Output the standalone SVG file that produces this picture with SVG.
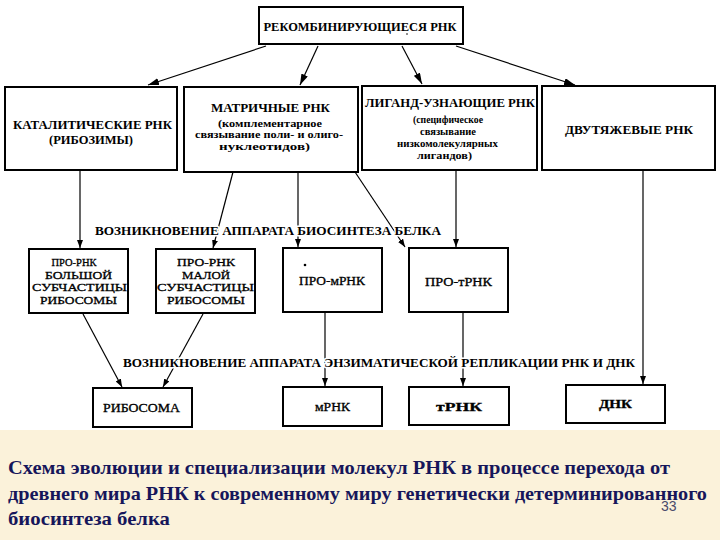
<svg xmlns="http://www.w3.org/2000/svg" width="720" height="540" viewBox="0 0 720 540">
<defs>
<marker id="ah" markerUnits="userSpaceOnUse" markerWidth="8" markerHeight="6" refX="8" refY="3" orient="auto"><path d="M0,0 L8,3 L0,6 z" fill="#000"/></marker>
<marker id="ahb" markerUnits="userSpaceOnUse" markerWidth="11" markerHeight="7" refX="11" refY="3.5" orient="auto"><path d="M0,0 L11,3.5 L0,7 z" fill="#000"/></marker>
<style>
.box{fill:#fff;stroke:#000;stroke-width:2}
.ln{fill:none;stroke:#000;stroke-width:1.2}
.h{font-family:'Liberation Serif',serif;font-weight:bold;font-size:12px;fill:#000;text-anchor:middle}
.s{font-family:'Liberation Serif',serif;font-weight:bold;font-size:10.5px;fill:#000;text-anchor:middle}
.r{font-family:'Liberation Serif',serif;font-size:12px;fill:#000;stroke:#000;stroke-width:0.3;text-anchor:middle}
.r4{font-family:'Liberation Serif',serif;font-size:11px;fill:#000;stroke:#000;stroke-width:0.3;text-anchor:middle}
.lab{font-family:'Liberation Serif',serif;font-weight:bold;font-size:12.5px;fill:#000;stroke:#fff;stroke-width:3;paint-order:stroke;stroke-linejoin:round}
.cap{font-family:'Liberation Serif',serif;font-weight:bold;font-size:19px;fill:#16165a}
</style>
</defs>
<rect x="0" y="0" width="720" height="540" fill="#fff"/>
<rect x="0" y="430" width="720" height="110" fill="#fbf2da"/>

<g id="connectors">
<line class="ln" x1="266" y1="46" x2="148" y2="85" marker-end="url(#ahb)"/>
<line class="ln" x1="318" y1="46" x2="300" y2="85" marker-end="url(#ahb)"/>
<line class="ln" x1="402" y1="46" x2="422" y2="84" marker-end="url(#ahb)"/>
<line class="ln" x1="456" y1="46" x2="575" y2="85" marker-end="url(#ahb)"/>
<line class="ln" x1="80" y1="171" x2="80" y2="248" marker-end="url(#ah)"/>
<line class="ln" x1="233" y1="172" x2="213" y2="248" marker-end="url(#ah)"/>
<line class="ln" x1="298" y1="173" x2="298" y2="247" marker-end="url(#ah)"/>
<line class="ln" x1="355" y1="172" x2="405" y2="247" marker-end="url(#ah)"/>
<line class="ln" x1="456" y1="171" x2="456" y2="247" marker-end="url(#ah)"/>
<line class="ln" x1="643" y1="171" x2="643" y2="384" marker-end="url(#ah)"/>
<line class="ln" x1="83" y1="314" x2="122" y2="387" marker-end="url(#ah)"/>
<line class="ln" x1="203" y1="314" x2="163" y2="387" marker-end="url(#ah)"/>
<line class="ln" x1="325" y1="313" x2="325" y2="386" marker-end="url(#ah)"/>
<line class="ln" x1="463" y1="313" x2="463" y2="386" marker-end="url(#ah)"/>
<text class="lab" x="95" y="234.5" textLength="346" lengthAdjust="spacingAndGlyphs">ВОЗНИКНОВЕНИЕ АППАРАТА БИОСИНТЕЗА БЕЛКА</text>
<text class="lab" x="123" y="367" textLength="512" lengthAdjust="spacingAndGlyphs">ВОЗНИКНОВЕНИЕ АППАРАТА ЭНЗИМАТИЧЕСКОЙ РЕПЛИКАЦИИ РНК И ДНК</text>
</g>

<g id="recomb">
<rect class="box" x="259" y="7" width="204" height="37"/>
<text class="h" x="360" y="31" font-size="12.5" textLength="193" lengthAdjust="spacingAndGlyphs">РЕКОМБИНИРУЮЩИЕСЯ РНК</text>
<circle cx="407" cy="34" r="0.8" fill="#000"/>
</g>

<g id="catalytic">
<rect class="box" x="5" y="87" width="172" height="83"/>
<text class="h" x="92.5" y="129" textLength="159" lengthAdjust="spacingAndGlyphs">КАТАЛИТИЧЕСКИЕ РНК</text>
<text class="h" x="91" y="144" textLength="84" lengthAdjust="spacingAndGlyphs">(РИБОЗИМЫ)</text>
</g>

<g id="matrix">
<rect class="box" x="184" y="87" width="174" height="85"/>
<text class="h" x="270.5" y="112" textLength="119" lengthAdjust="spacingAndGlyphs">МАТРИЧНЫЕ РНК</text>
<text class="s" x="270" y="126.5" textLength="104" lengthAdjust="spacingAndGlyphs">(комплементарное</text>
<text class="s" x="269" y="138" textLength="148" lengthAdjust="spacingAndGlyphs">связывание поли- и олиго-</text>
<text class="s" x="264.5" y="150" textLength="91" lengthAdjust="spacingAndGlyphs">нуклеотидов)</text>
</g>

<g id="ligand">
<rect class="box" x="362" y="86" width="175" height="84"/>
<text class="h" x="450" y="107" textLength="170" lengthAdjust="spacingAndGlyphs">ЛИГАНД-УЗНАЮЩИЕ РНК</text>
<text class="s" x="448" y="122.5" textLength="70" lengthAdjust="spacingAndGlyphs">(специфическое</text>
<text class="s" x="448" y="135" textLength="56" lengthAdjust="spacingAndGlyphs">связывание</text>
<text class="s" x="447.5" y="147" textLength="101" lengthAdjust="spacingAndGlyphs">низкомолекулярных</text>
<text class="s" x="444.5" y="159" textLength="55" lengthAdjust="spacingAndGlyphs">лигандов)</text>
</g>

<g id="double">
<rect class="box" x="542" y="86" width="173" height="84"/>
<text class="h" x="629" y="134" textLength="128" lengthAdjust="spacingAndGlyphs">ДВУТЯЖЕВЫЕ РНК</text>
</g>

<g id="pro-large">
<rect class="box" x="29" y="249" width="99" height="64"/>
<text class="r4" x="74" y="266" textLength="45" lengthAdjust="spacingAndGlyphs">ПРО-РНК</text>
<text class="r4" x="78.5" y="278.5" textLength="67" lengthAdjust="spacingAndGlyphs">БОЛЬШОЙ</text>
<text class="r4" x="79.5" y="291" textLength="95" lengthAdjust="spacingAndGlyphs">СУБЧАСТИЦЫ</text>
<text class="r4" x="78.5" y="303.5" textLength="77" lengthAdjust="spacingAndGlyphs">РИБОСОМЫ</text>
</g>

<g id="pro-small">
<rect class="box" x="156" y="249" width="99" height="64"/>
<text class="r4" x="206" y="266" textLength="58" lengthAdjust="spacingAndGlyphs">ПРО-РНК</text>
<text class="r4" x="206" y="278.5" textLength="48" lengthAdjust="spacingAndGlyphs">МАЛОЙ</text>
<text class="r4" x="205.5" y="291" textLength="97" lengthAdjust="spacingAndGlyphs">СУБЧАСТИЦЫ</text>
<text class="r4" x="206" y="303.5" textLength="78" lengthAdjust="spacingAndGlyphs">РИБОСОМЫ</text>
</g>

<g id="pro-mrna">
<rect class="box" x="283" y="248" width="99" height="64"/>
<circle cx="305" cy="265" r="1.3" fill="#000"/>
<text class="r" x="332" y="285" font-size="12.5" textLength="66" lengthAdjust="spacingAndGlyphs">ПРО-мРНК</text>
</g>

<g id="pro-trna">
<rect class="box" x="409" y="248" width="99" height="64"/>
<text class="r" x="458.5" y="286" font-size="12.5" textLength="67" lengthAdjust="spacingAndGlyphs">ПРО-тРНК</text>
</g>

<g id="ribosome">
<rect class="box" x="93" y="388" width="99" height="39"/>
<text class="r" x="141.5" y="412" font-size="12.5" textLength="77" lengthAdjust="spacingAndGlyphs">РИБОСОМА</text>
</g>

<g id="mrna">
<rect class="box" x="283" y="387" width="99" height="39"/>
<text class="r" x="332.5" y="411" font-size="12.5" textLength="35" lengthAdjust="spacingAndGlyphs">мРНК</text>
</g>

<g id="trna">
<rect class="box" x="409" y="387" width="100" height="38"/>
<text class="r" x="459" y="411" font-size="12.5" font-weight="bold" textLength="46" lengthAdjust="spacingAndGlyphs">тРНК</text>
</g>

<g id="dna">
<rect class="box" x="566" y="385" width="99" height="38"/>
<text class="r" x="615.5" y="408" font-size="12.5" font-weight="bold" textLength="33" lengthAdjust="spacingAndGlyphs">ДНК</text>
</g>

<g id="caption">
<text class="cap" x="8" y="474" textLength="662" lengthAdjust="spacingAndGlyphs">Схема эволюции и специализации молекул РНК  в процессе перехода от</text>
<text class="cap" x="8" y="500" textLength="699" lengthAdjust="spacingAndGlyphs">древнего мира РНК к современному миру генетически детерминированного</text>
<text class="cap" x="8" y="525" textLength="162" lengthAdjust="spacingAndGlyphs">биосинтеза белка</text>
<text x="661" y="511" font-family="'Liberation Sans Narrow','Liberation Sans',sans-serif" font-size="14" fill="#4a4a6a">33</text>
</g>
</svg>
